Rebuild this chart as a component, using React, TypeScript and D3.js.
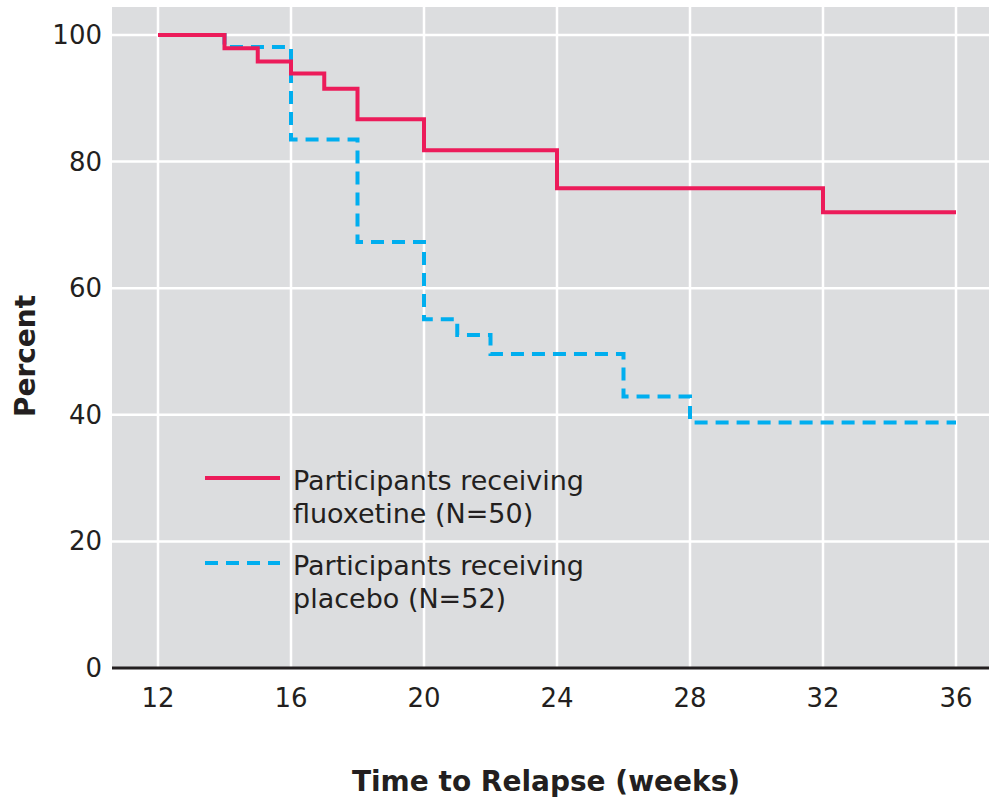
import React, { useEffect, useRef } from 'react';
import * as d3 from 'd3';

// Kaplan-Meier steps (week, percent still without relapse)
const fluoxetineWeeks = [12, 14, 15, 16, 17, 18, 20, 24, 32, 36];
const fluoxetineValues = [100, 97.9, 95.8, 93.9, 91.5, 86.7, 81.8, 75.8, 72.0, 72.0];
const placeboWeeks = [12, 14, 16, 18, 20, 21, 22, 26, 28, 36];
const placeboValues = [100, 98.1, 83.5, 67.3, 55.1, 52.6, 49.6, 42.9, 38.8, 38.8];

const xTicks = [12, 16, 20, 24, 28, 32, 36];
const yTicks = [0, 20, 40, 60, 80, 100];

const legendItems = [
  { lines: ['Participants receiving', 'fluoxetine (N=50)'], color: '#ec1b5a', dash: null },
  { lines: ['Participants receiving', 'placebo (N=52)'], color: '#00aeef', dash: '13,8' },
];

const font = '"DejaVu Sans", "Open Sans", sans-serif';

const App = () => {
  const svgRef = useRef(null);

  const width = 989;
  const height = 802;
  const plot = { left: 112, right: 989, top: 7, bottom: 668 };

  useEffect(() => {
    document.body.style.margin = '0';
    const svg = d3.select(svgRef.current);
    svg.selectAll('*').remove();

    const x = d3.scaleLinear().domain([12, 36]).range([158, 956]);
    const y = d3.scaleLinear().domain([0, 100]).range([668, 35]);

    // gray panel
    svg.append('rect')
      .attr('x', plot.left)
      .attr('y', plot.top)
      .attr('width', plot.right - plot.left)
      .attr('height', plot.bottom - plot.top)
      .attr('fill', '#dcdddf');

    // white grid
    const grid = svg.append('g');
    grid.selectAll('line.v')
      .data(xTicks)
      .join('line')
      .attr('x1', (d) => x(d)).attr('x2', (d) => x(d))
      .attr('y1', plot.top).attr('y2', plot.bottom)
      .attr('stroke', '#fff').attr('stroke-width', 2.5);
    grid.selectAll('line.h')
      .data(yTicks.filter((d) => d > 0))
      .join('line')
      .attr('x1', plot.left).attr('x2', plot.right)
      .attr('y1', (d) => y(d)).attr('y2', (d) => y(d))
      .attr('stroke', '#fff').attr('stroke-width', 2.5);

    // legend
    const lg = svg.append('g');
    legendItems.forEach((item, i) => {
      const top = 478 + i * 85;
      const ln = lg.append('line')
        .attr('x1', 205).attr('x2', 280)
        .attr('y1', top).attr('y2', top)
        .attr('stroke', item.color).attr('stroke-width', 4);
      if (item.dash) ln.attr('stroke-dasharray', item.dash);
      item.lines.forEach((t, j) => {
        lg.append('text')
          .attr('x', 293)
          .attr('y', top + 12 + j * 33)
          .attr('font-family', font)
          .attr('font-size', 27)
          .attr('fill', '#231f20')
          .text(t);
      });
    });

    const line = d3.line()
      .x((d) => x(d[0]))
      .y((d) => y(d[1]))
      .curve(d3.curveStepAfter);

    svg.append('path')
      .datum(placeboWeeks.map((w, i) => [w, placeboValues[i]]))
      .attr('fill', 'none')
      .attr('stroke', '#00aeef')
      .attr('stroke-width', 4)
      .attr('stroke-dasharray', '13,8')
      .attr('d', line);

    svg.append('path')
      .datum(fluoxetineWeeks.map((w, i) => [w, fluoxetineValues[i]]))
      .attr('fill', 'none')
      .attr('stroke', '#ec1b5a')
      .attr('stroke-width', 4)
      .attr('d', line);

    // x axis
    svg.append('line')
      .attr('x1', plot.left).attr('x2', plot.right)
      .attr('y1', plot.bottom).attr('y2', plot.bottom)
      .attr('stroke', '#231f20').attr('stroke-width', 3);

    svg.append('g')
      .selectAll('text')
      .data(xTicks)
      .join('text')
      .attr('x', (d) => x(d))
      .attr('y', 707)
      .attr('text-anchor', 'middle')
      .attr('font-family', font)
      .attr('font-size', 26)
      .attr('fill', '#231f20')
      .text((d) => d);

    svg.append('g')
      .selectAll('text')
      .data(yTicks)
      .join('text')
      .attr('x', 102)
      .attr('y', (d) => y(d) + 9)
      .attr('text-anchor', 'end')
      .attr('font-family', font)
      .attr('font-size', 26)
      .attr('fill', '#231f20')
      .text((d) => d);

    // axis titles
    svg.append('text')
      .attr('x', 546)
      .attr('y', 791)
      .attr('text-anchor', 'middle')
      .attr('font-family', font)
      .attr('font-weight', 'bold')
      .attr('font-size', 28)
      .attr('fill', '#231f20')
      .text('Time to Relapse (weeks)');

    svg.append('text')
      .attr('transform', 'translate(35, 356) rotate(-90)')
      .attr('text-anchor', 'middle')
      .attr('font-family', font)
      .attr('font-weight', 'bold')
      .attr('font-size', 28)
      .attr('fill', '#231f20')
      .text('Percent');
    // eslint-disable-next-line react-hooks/exhaustive-deps
  }, []);

  return <svg ref={svgRef} width={width} height={height} style={{ display: 'block' }}></svg>;
};

export default App;
